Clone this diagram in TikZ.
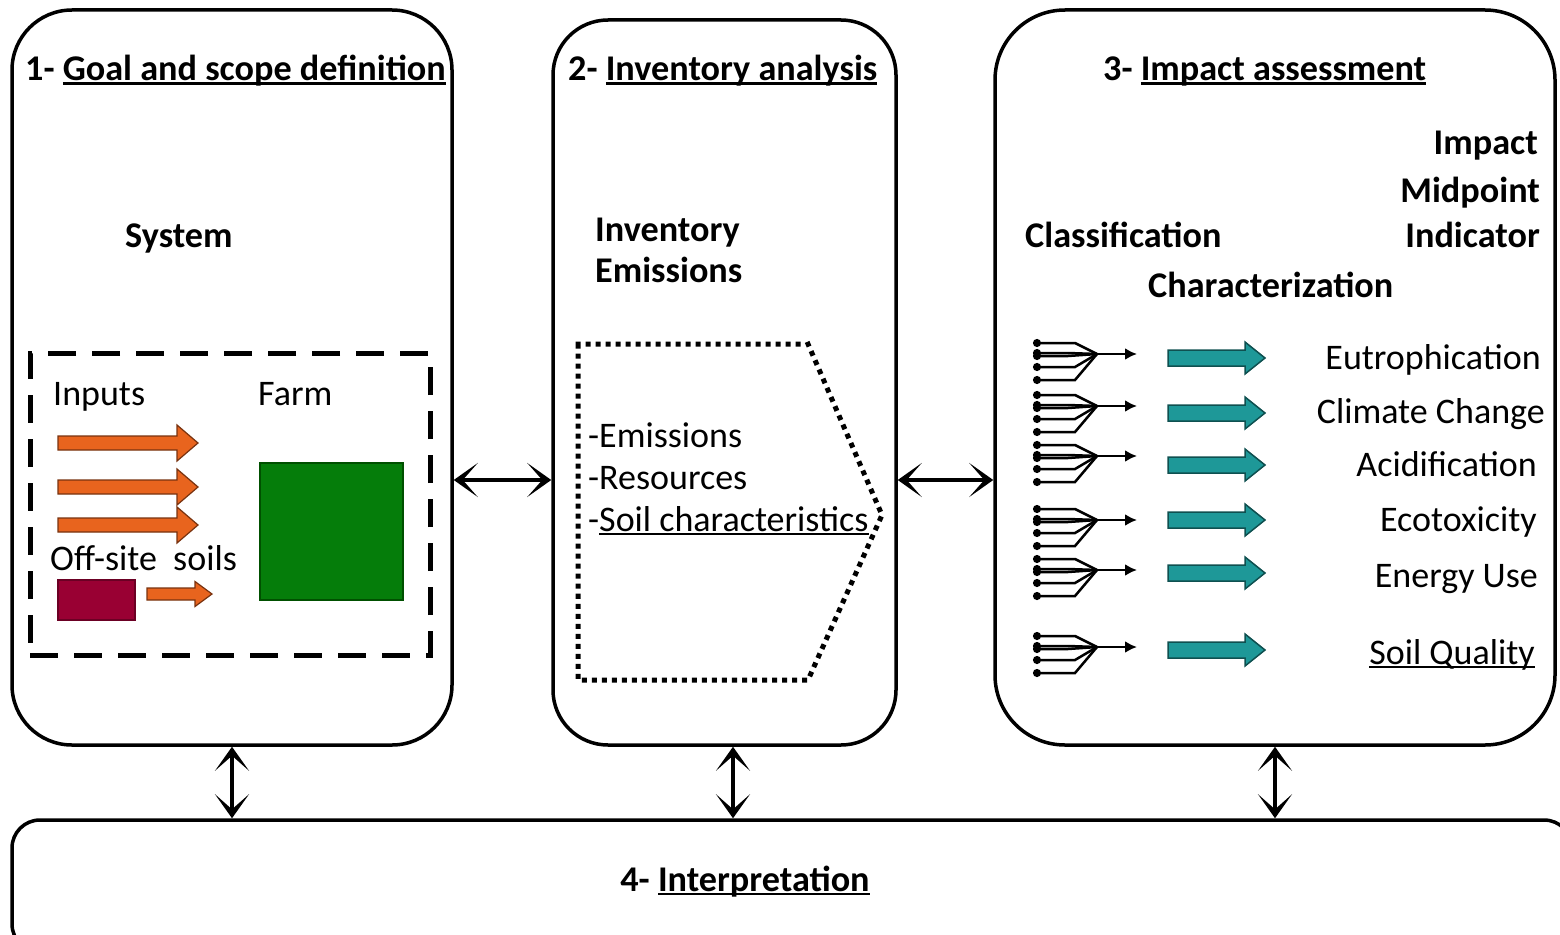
\documentclass[tikz,border=0pt]{standalone}
\usepackage{fontspec}
\setmainfont{Carlito}
\usetikzlibrary{arrows.meta,calc}

% underline drawn close to the baseline, crossing descenders
\newlength\ulinwd
\newcommand\ulin[1]{\settowidth{\ulinwd}{#1}\rlap{\rule[-4pt]{\ulinwd}{2.5pt}}#1}

% block arrow: style, x start, x tip, y, shaft half-height, head half-height, head length
\newcommand\fatarrow[7]{%
  \filldraw[#1] (#2,{#4-#5}) -- ({#3-#7},{#4-#5}) -- ({#3-#7},{#4-#6}) -- (#3,#4)
    -- ({#3-#7},{#4+#6}) -- ({#3-#7},{#4+#5}) -- (#2,{#4+#5}) -- cycle;}

\definecolor{inorange}{RGB}{232,100,30}
\definecolor{inorangedk}{RGB}{120,50,15}
\definecolor{soilred}{RGB}{153,0,51}
\definecolor{farmgreen}{RGB}{5,125,10}
\definecolor{farmgreendk}{RGB}{0,80,0}
\definecolor{teal}{RGB}{30,152,152}
\definecolor{tealdk}{RGB}{15,80,80}

\begin{document}
\begin{tikzpicture}[x=1pt,y=-1pt,
  txt/.style={font=\fontsize{36}{42}\selectfont, inner sep=0pt},
  btxt/.style={font=\fontsize{36.2}{42}\selectfont\bfseries, inner sep=0pt},
  stage/.style={draw, line width=3.5pt, inner sep=0pt},
  link/.style={line width=4pt,
    {Stealth[length=24pt,width=34pt,inset=15pt]}-{Stealth[length=24pt,width=34pt,inset=15pt]}},
  orangearrow/.style={fill=inorange, draw=inorangedk, line width=1.2pt},
  tealarrow/.style={fill=teal, draw=tealdk, line width=1.5pt},
  fanline/.style={line width=2.5pt, {Circle[length=8pt]}-},
  fanout/.style={line width=2.5pt, -{Latex[length=12pt,width=12pt]}},
  dotted border/.style={line width=5pt, line cap=rect, dash pattern=on 0.01pt off 10pt},
]
\useasboundingbox (0,0) rectangle (1560,934);
\clip (0,0) rectangle (1560,934);

% the four stages
\node[stage, rounded corners=60pt, minimum width=440pt, minimum height=735pt] (b1) at (232,377.5) {};
\node[stage, rounded corners=55pt, minimum width=343pt, minimum height=725pt] (b2) at (724.5,382.5) {};
\node[stage, rounded corners=70pt, minimum width=560pt, minimum height=735pt] (b3) at (1275,377.5) {};
\node[stage, rounded corners=28pt, minimum width=1560pt, minimum height=132pt] (b4) at (792,886) {};

% stage titles
\node[btxt, anchor=base west] (t1) at (25,81) {1- \ulin{Goal and scope definition}};
\node[btxt, anchor=base west] (t2) at (568,81) {2- \ulin{Inventory analysis}};
\node[btxt, anchor=base west] (t3) at (1103,81) {3- \ulin{Impact assessment}};
\node[btxt, anchor=base] (t4) at (745,891) {4- \ulin{Interpretation}};

% links between the stages
\coordinate (hrow) at (0,480);
\coordinate (c2) at (733,0);
\draw[link] (b1.east |- hrow) -- (b2.west |- hrow);
\draw[link] (b2.east |- hrow) -- (b3.west |- hrow);
\draw[link] (b1.south) -- (b1.south |- b4.north);
\draw[link] (b2.south -| c2) -- (b4.north -| c2);
\draw[link] (b3.south) -- (b3.south |- b4.north);

% stage 1: the system
\node[btxt, anchor=base west] (system) at (125,247) {System};
\node[draw, line width=5pt, dash pattern=on 28pt off 16pt, minimum width=400pt, minimum height=302pt] (sys) at (230,504) {};
\node[txt, anchor=base west] (inputs) at (53,405) {Inputs};
\node[txt, anchor=base west] (farmlbl) at (258,405) {Farm};
\node[txt, anchor=base west] (offsite) at (50,570) {Off-site\ \ soils};
\node[draw=farmgreendk, fill=farmgreen, line width=1.5pt, minimum width=143pt, minimum height=137pt] (farm) at (331.5,531.5) {};
\node[draw=soilred!70!black, fill=soilred, line width=1.2pt, minimum width=77pt, minimum height=40pt] (soil) at (96.5,600) {};
\foreach \y in {443,487,525} {
  \fatarrow{orangearrow}{58}{198}{\y}{7}{18}{21}
}
\fatarrow{orangearrow}{147}{212}{594}{6}{12.5}{17}

% stage 2: inventory
\node[btxt, anchor=base west] (inv) at (595,241) {Inventory};
\node[btxt, anchor=base west] (ems) at (595,282) {Emissions};
\draw[dotted border] (578,344) -- (808,344) -- (882,515) -- (808,680) -- (578,680) -- cycle;
\node[txt, anchor=base west] (l1) at (588,447) {-Emissions};
\node[txt, anchor=base west] (l2) at (588,489) {-Resources};
\node[txt, anchor=base west] (l3) at (588,531) {-\ulin{Soil characteristics}};

% stage 3: impact assessment
\node[btxt, anchor=base west] (cls) at (1025,247) {Classification};
\node[btxt, anchor=base west] (chr) at (1148,297) {Characterization};
\node[btxt, anchor=base east] (imp1) at (1538,154) {Impact};
\node[btxt, anchor=base east] (imp2) at (1540,202) {Midpoint};
\node[btxt, anchor=base east] (imp3) at (1540,247) {Indicator};

% classification fans: several flows merging into one category
\foreach \yc in {354,406,456,520,570,647} {
  \foreach \o/\bx in {-11/1075,-1/1068,2/1068,13/1075,26/1075} {
    \draw[fanline] (1033,{\yc+\o}) -- (\bx,{\yc+\o}) -- (1097,\yc);
  }
  \draw[fanout] (1097,\yc) -- (1137,\yc);
}
\foreach \y in {358,413,465,520,573,650} {
  \fatarrow{tealarrow}{1168}{1265}{\y}{8}{16}{20}
}

\node[txt, anchor=base east] (cat1) at (1541,369) {Eutrophication};
\node[txt, anchor=base east] (cat2) at (1545,423) {Climate Change};
\node[txt, anchor=base east] (cat3) at (1537,476) {Acidification};
\node[txt, anchor=base east] (cat4) at (1537,531) {Ecotoxicity};
\node[txt, anchor=base east] (cat5) at (1538,587) {Energy Use};
\node[txt, anchor=base east] (cat6) at (1535,664) {\ulin{Soil Quality}};
\end{tikzpicture}
\end{document}
